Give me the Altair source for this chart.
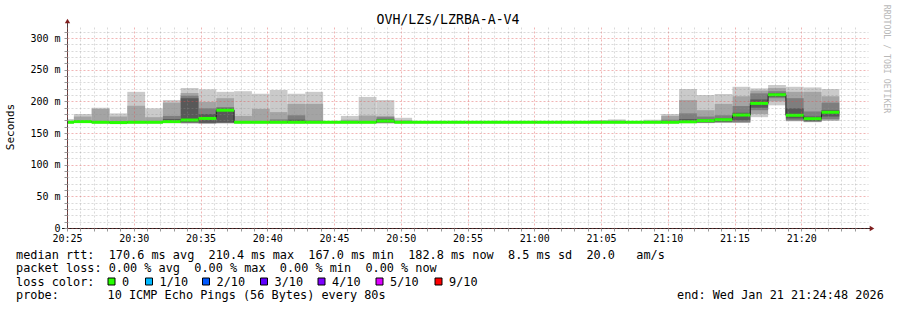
import json
import altair as alt
import pandas as pd

MONO = "DejaVu Sans Mono"

# ---------------- data ----------------
STEP = 80      # seconds per RRD row
FIRST = 31     # first full row starts 31 s after 20:25:00
X_END = 3600   # 20:25 .. 21:25
Y_MAX = 317.4  # ms at top of plot

x_labels = ["20:25", "20:30", "20:35", "20:40", "20:45", "20:50",
            "20:55", "21:00", "21:05", "21:10", "21:15", "21:20"]
y_labels = ["0\u00a0\u00a0", "50 m", "100 m", "150 m", "200 m", "250 m", "300 m"]

median = [167, 168, 167, 166.5, 167, 167, 168, 170.5, 173, 186,
          167, 167, 167, 167, 167, 167, 167, 167, 169, 167,
          167, 167, 167, 167, 167, 167, 167, 167, 167, 167,
          167, 167, 167, 167, 167, 167.7, 169.5, 171, 178.4, 196.8,
          210.4, 178, 172.6, 182.8]
hi1 = [172, 180, 190, 181, 215, 189, 202, 221, 219, 215,
       216, 212, 218, 212, 215, 169, 177, 207, 202, 174,
       168, 168, 168, 168, 168, 168, 168, 168, 168, 168,
       170.5, 171.5, 168, 171, 180, 219.5, 210, 211.6, 223, 220.5,
       225.8, 223, 222, 219.5]
hi2 = [168, 176, 188, 176, 193, 175, 198, 213, 199, 205,
       177, 188, 183, 196, 196, 167.5, 171, 177.6, 177, 170,
       167.5, 167.5, 167.5, 167.5, 167.5, 167.5, 167.5, 167.5, 167.5, 167.5,
       169, 169.5, 167.5, 169, 177, 202, 186, 196, 208, 217,
       221, 215, 215, 208]
hi3 = [167, 168, 168, 168, 169, 168, 177, 209, 189, 191,
       168, 168, 171.5, 178, 170, 167, 168, 168, 175, 167.5,
       167, 167, 167, 167, 167, 167, 167, 167, 167, 167,
       167.5, 168, 167, 167.5, 171, 181, 176, 178, 192.6, 212.6,
       216, 205, 184, 198]
hi4 = [167, 168, 167, 166.5, 167, 167, 172, 205, 180, 189,
       167, 167, 168, 171, 167, 167, 167, 167, 172, 167,
       167, 167, 167, 167, 167, 167, 167, 167, 167, 167,
       167, 167, 167, 167, 167, 172, 171, 173, 182, 203,
       213, 189, 176, 186]
lo4 = [166.5, 167.5, 166.5, 166, 166.5, 166.5, 167, 167, 166, 166.5,
       166.5, 166.5, 166.5, 166.5, 166.5, 166.5, 166.5, 166.5, 167, 166.5,
       166.5, 166.5, 166.5, 166.5, 166.5, 166.5, 166.5, 166.5, 166.5, 166.5,
       166.5, 166.5, 166.5, 166.5, 166.5, 167, 167, 168, 170, 190,
       207, 173, 169, 176]
lo3 = [166, 167, 166, 165.5, 166, 166, 166.5, 166, 165.5, 166,
       166, 166, 166, 166, 166, 166, 166, 166, 166, 166,
       166, 166, 166, 166, 166, 166, 166, 166, 166, 166,
       166, 166, 166, 166, 166, 166.5, 166.5, 167, 167, 186,
       205, 170, 168, 172]
lo2 = [165.5, 166.5, 165.5, 165, 165.5, 165.5, 166, 165.5, 165, 165.5,
       165.5, 165.5, 165.5, 165.5, 165.5, 165.5, 165.5, 165.5, 165.5, 165.5,
       165.5, 165.5, 165.5, 165.5, 165.5, 165.5, 165.5, 165.5, 165.5, 165.5,
       165.5, 165.5, 165.5, 165.5, 165.5, 166, 166, 166.5, 166.5, 180,
       200, 169, 167.5, 170]
lo1 = [165, 166, 165, 164.5, 165, 165, 165.5, 165, 164.5, 165,
       165, 165, 165, 165, 165, 165, 165, 165, 165, 165,
       165, 165, 165, 165, 165, 165, 165, 165, 165, 165,
       165, 165, 165, 165, 165, 165.5, 165.5, 166, 166, 175,
       193.7, 168.4, 167, 169]

smoke_colors = ["#cacaca", "#a4a4a4", "#7e7e7e", "#585858"]

stats_line = "median rtt:  170.6 ms avg  210.4 ms max  167.0 ms min  182.8 ms now  8.5 ms sd  20.0   am/s"
loss_line = "packet loss: 0.00 % avg  0.00 % max  0.00 % min  0.00 % now"
probe_label = "probe:"
probe_text = "10 ICMP Echo Pings (56 Bytes) every 80s"
end_text = "end: Wed Jan 21 21:24:48 2026"
title_text = "OVH/LZs/LZRBA-A-V4"
legend_names = ["0", "1/10", "2/10", "3/10", "4/10", "5/10", "9/10"]
legend_colors = ["#26ff00", "#00b8ff", "#0059ff", "#5e00ff", "#7e00ff", "#dd00ff", "#ff0000"]

# ---------------- build tables ----------------
n = len(median)
starts = [max(0, FIRST + STEP * (i - 1)) for i in range(n)]
ends = [FIRST + STEP * i for i in range(n)]

layers_lo = [lo1, lo2, lo3, lo4]
layers_hi = [hi1, hi2, hi3, hi4]

xscale = alt.Scale(domain=[0, X_END], nice=False, zero=False)
yscale = alt.Scale(domain=[0, Y_MAX], nice=False, zero=False)

def nb(s):
    return s.replace(" ", "\u00a0")

x_expr = ("datum.value % 300 == 0 && datum.value < 3600 ? "
          + json.dumps(x_labels, ensure_ascii=False) + "[datum.value / 300] : ''")
y_expr = ("datum.value % 50 == 0 ? "
          + json.dumps(y_labels, ensure_ascii=False) + "[datum.value / 50] : ''")

MINOR = "rgba(143,143,143,0.33)"
MAJOR = "rgba(222,79,79,0.42)"

x_axis = alt.Axis(
    values=list(range(0, 3600, 60)), labelExpr=x_expr, title=None,
    grid=True, gridColor={"condition": {"test": "datum.value % 300 === 0", "value": MAJOR}, "value": MINOR},
    gridDash=[2, 2], gridWidth=1, domain=False, ticks=True, tickSize=3, tickColor="#999999",
    labelFont=MONO, labelFontSize=10, labelColor="black", labelPadding=2,
    labelOverlap=False, labelFlush=False, labelAngle=0, zindex=1,
)
y_axis = alt.Axis(
    values=list(range(0, 311, 10)), labelExpr=y_expr, title=None,
    grid=True, gridColor={"condition": {"test": "datum.value % 50 === 0", "value": MAJOR}, "value": MINOR},
    gridDash=[2, 2], gridWidth=1, domain=False, ticks=True, tickSize=3, tickColor="#999999",
    labelFont=MONO, labelFontSize=10, labelColor="black", labelPadding=4,
    labelOverlap=False, labelFlush=False, zindex=1,
)

def X(f):
    return alt.X(f, scale=xscale, axis=x_axis)

def Y(f):
    return alt.Y(f, scale=yscale, axis=y_axis)

charts = []
for j in range(4):
    df = pd.DataFrame({"start": starts, "end": ends, "lo": layers_lo[j], "hi": layers_hi[j]})
    charts.append(alt.Chart(df).mark_rect(color=smoke_colors[j], strokeWidth=0).encode(
        x=X("start:Q"), x2="end:Q", y=Y("lo:Q"), y2="hi:Q"))

line_df = pd.DataFrame({"start": starts + [ends[-1]], "lo": median + [median[-1]]})
charts.append(alt.Chart(line_df).mark_line(color="#202020", strokeWidth=1, interpolate="step-after")
              .encode(x=X("start:Q"), y=Y("lo:Q")))

med_df = pd.DataFrame({"start": starts, "end": ends, "lo": median})
charts.append(alt.Chart(med_df).mark_rule(color=legend_colors[0], strokeWidth=3)
              .encode(x=X("start:Q"), x2="end:Q", y=Y("lo:Q")))

one = pd.DataFrame({"a": [0]})

# axis lines and arrows
charts.append(alt.Chart(one).mark_rule(color="#1f1f1f", strokeWidth=1)
              .encode(x=alt.value(-5), x2=alt.value(804), y=alt.value(201.5)))
charts.append(alt.Chart(one).mark_rule(color="#4a4040", strokeWidth=1)
              .encode(x=alt.value(0.5), y=alt.value(-5), y2=alt.value(204)))
charts.append(alt.Chart(one).mark_point(shape="triangle-up", filled=True, color="#801f1f", size=28, opacity=1)
              .encode(x=alt.value(0.5), y=alt.value(-6)))
charts.append(alt.Chart(one).mark_point(shape="triangle-right", filled=True, color="#801f1f", size=28, opacity=1)
              .encode(x=alt.value(805), y=alt.value(201.5)))

def txt(s, x, y, size=11.85, align="left", baseline="alphabetic", angle=0, color="black"):
    d = pd.DataFrame({"t": [nb(s)]})
    return alt.Chart(d).mark_text(font=MONO, fontSize=size, align=align, baseline=baseline,
                                  angle=angle, color=color).encode(
        x=alt.value(x), y=alt.value(y), text="t:N")

charts.append(txt(title_text, 381, -3.5, size=13.2, align="center"))
charts.append(txt("Seconds", -56, 100, size=11, align="center", baseline="middle", angle=270))
charts.append(txt("RRDTOOL / TOBI OETIKER", 819, 32, size=8.2, align="center", baseline="middle",
                  angle=90, color="#b8b8b8"))

charts.append(txt(stats_line, -51, 232))
charts.append(txt(loss_line, -51, 245.3))
charts.append(txt("loss color:", -51, 258.6))
charts.append(txt(probe_label, -51, 271.9))
charts.append(txt(probe_text, 40.5, 271.9))
charts.append(txt(end_text, 610, 271.9))

sq_left = [41, 78.5, 135.5, 193.5, 251, 309, 368]
for i, (name, col) in enumerate(zip(legend_names, legend_colors)):
    x0 = sq_left[i]
    charts.append(alt.Chart(one).mark_rect(fill=col, stroke="black", strokeWidth=1)
                  .encode(x=alt.value(x0), x2=alt.value(x0 + 7), y=alt.value(251), y2=alt.value(258)))
    charts.append(txt(name, x0 + 14, 258.6))

chart = alt.layer(*charts).properties(
    width=801, height=201,
    padding={"left": 67, "top": 27, "right": 29, "bottom": 82},
    autosize=alt.AutoSizeParams(type="none"),
    background="white",
).configure_view(stroke=None)

chart.save("out.html", embed_options={"renderer": "svg", "actions": False})
